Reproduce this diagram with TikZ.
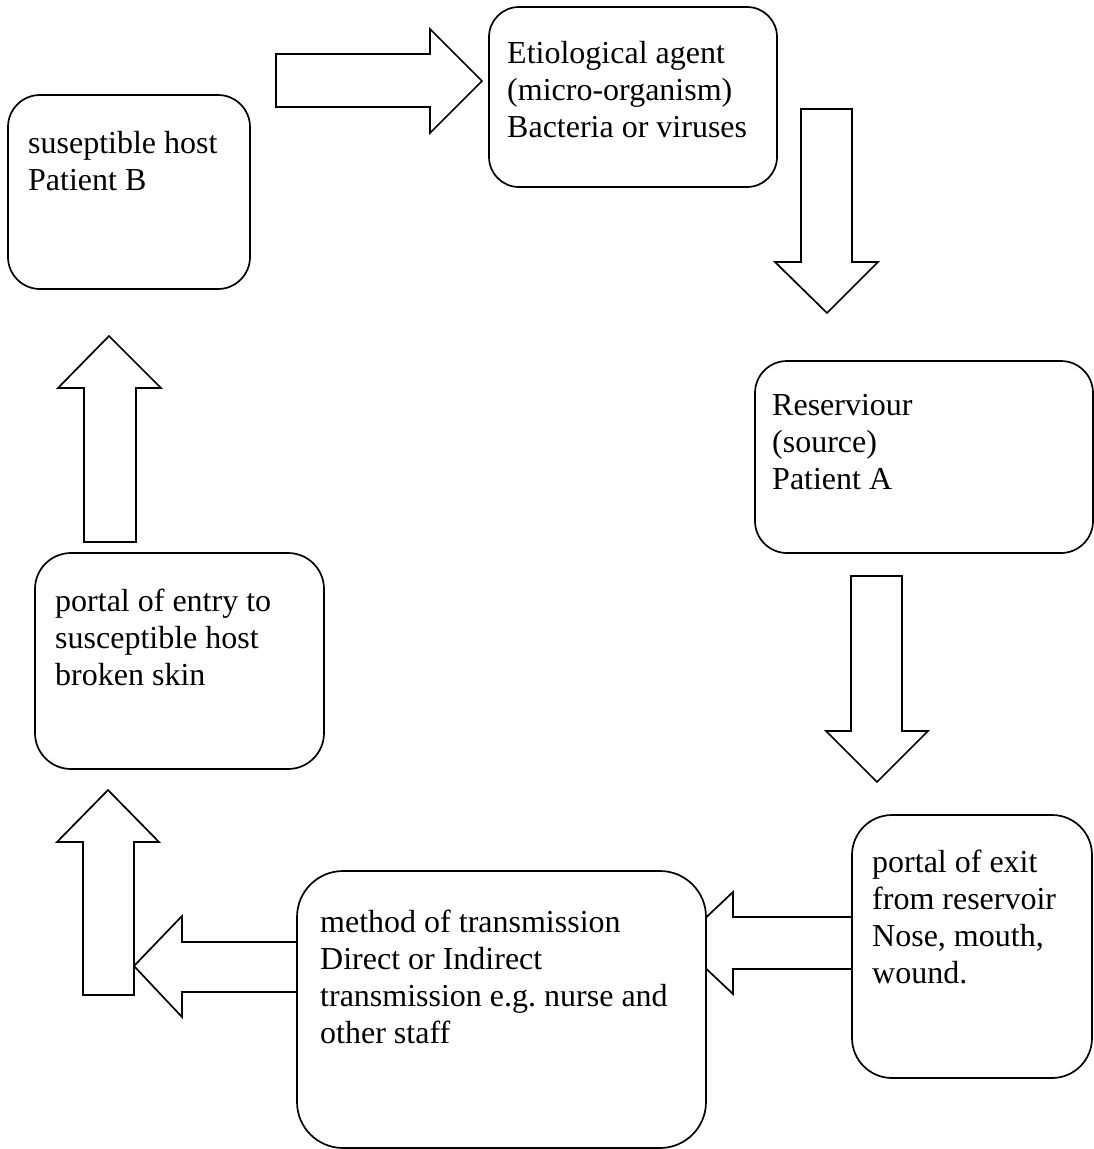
\documentclass[tikz,border=0pt]{standalone}
\usepackage{fontspec}
\setmainfont{Liberation Serif}
\usetikzlibrary{calc}
\frenchspacing
\begin{document}
\begin{tikzpicture}[x=1pt,y=-1pt,
  box/.style={draw, line width=1.7pt, fill=white, anchor=north west, inner sep=0pt, outer sep=0pt},
  lbl/.style={anchor=base west, inner sep=0pt, font=\fontsize{32}{37}\selectfont},
  blk/.style={draw, line width=1.7pt, fill=white, line join=miter}]
\useasboundingbox (0,0) rectangle (1094,1149);
% block arrows (drawn first, boxes cover their ends)
\draw[blk] (276,54) -- (430,54) -- (430,29) -- (482,81) -- (430,133) -- (430,107) -- (276,107) -- cycle;
\draw[blk] (801,109) -- (852,109) -- (852,262) -- (878,262) -- (827,313) -- (775,262) -- (801,262) -- cycle;
\draw[blk] (851,576) -- (902,576) -- (902,731) -- (928,731) -- (877,782) -- (826,731) -- (851,731) -- cycle;
\draw[blk] (852,917) -- (733,917) -- (733,892) -- (679,943) -- (733,994) -- (733,969) -- (852,969) -- cycle;
\draw[blk] (83,995) -- (83,842) -- (57,842) -- (108,790) -- (159,842) -- (134,842) -- (134,995) -- cycle;
\draw[blk] (297,942) -- (182,942) -- (182,916) -- (134,966) -- (182,1017) -- (182,992) -- (297,992) -- cycle;
\draw[blk] (84,542) -- (84,388) -- (58,388) -- (109,336) -- (161,388) -- (136,388) -- (136,542) -- cycle;
% boxes
\node[box, minimum width=242pt, minimum height=194pt, rounded corners=32pt] (b1) at (8,95) {};
\node[box, minimum width=288pt, minimum height=180pt, rounded corners=30pt] (b2) at (489,7) {};
\node[box, minimum width=338pt, minimum height=192pt, rounded corners=32pt] (b3) at (755,361) {};
\node[box, minimum width=240pt, minimum height=263pt, rounded corners=40pt] (b4) at (852,815) {};
\node[box, minimum width=409pt, minimum height=277pt, rounded corners=46pt] (b5) at (297,871) {};
\node[box, minimum width=289pt, minimum height=216pt, rounded corners=36pt] (b6) at (35,553) {};
% labels
\node[lbl] (t1) at ($(b1.north west)+(20,58)$) {\parbox[t]{400pt}{suseptible host\\Patient B}};
\node[lbl] (t2) at ($(b2.north west)+(18,56)$) {\parbox[t]{400pt}{Etiological agent\\(micro-organism)\\Bacteria or viruses}};
\node[lbl] (t3) at ($(b3.north west)+(17,54)$) {\parbox[t]{400pt}{Reserviour\\(source)\\Patient A}};
\node[lbl] (t4) at ($(b4.north west)+(20,57)$) {\parbox[t]{400pt}{portal of exit\\from reservoir\\Nose, mouth,\\wound.}};
\node[lbl] (t5) at ($(b5.north west)+(23,61)$) {\parbox[t]{400pt}{method of transmission\\Direct or Indirect\\transmission e.g. nurse and\\other staff}};
\node[lbl] (t6) at ($(b6.north west)+(20,58)$) {\parbox[t]{400pt}{portal of entry to\\susceptible host\\broken skin}};
\end{tikzpicture}
\end{document}
